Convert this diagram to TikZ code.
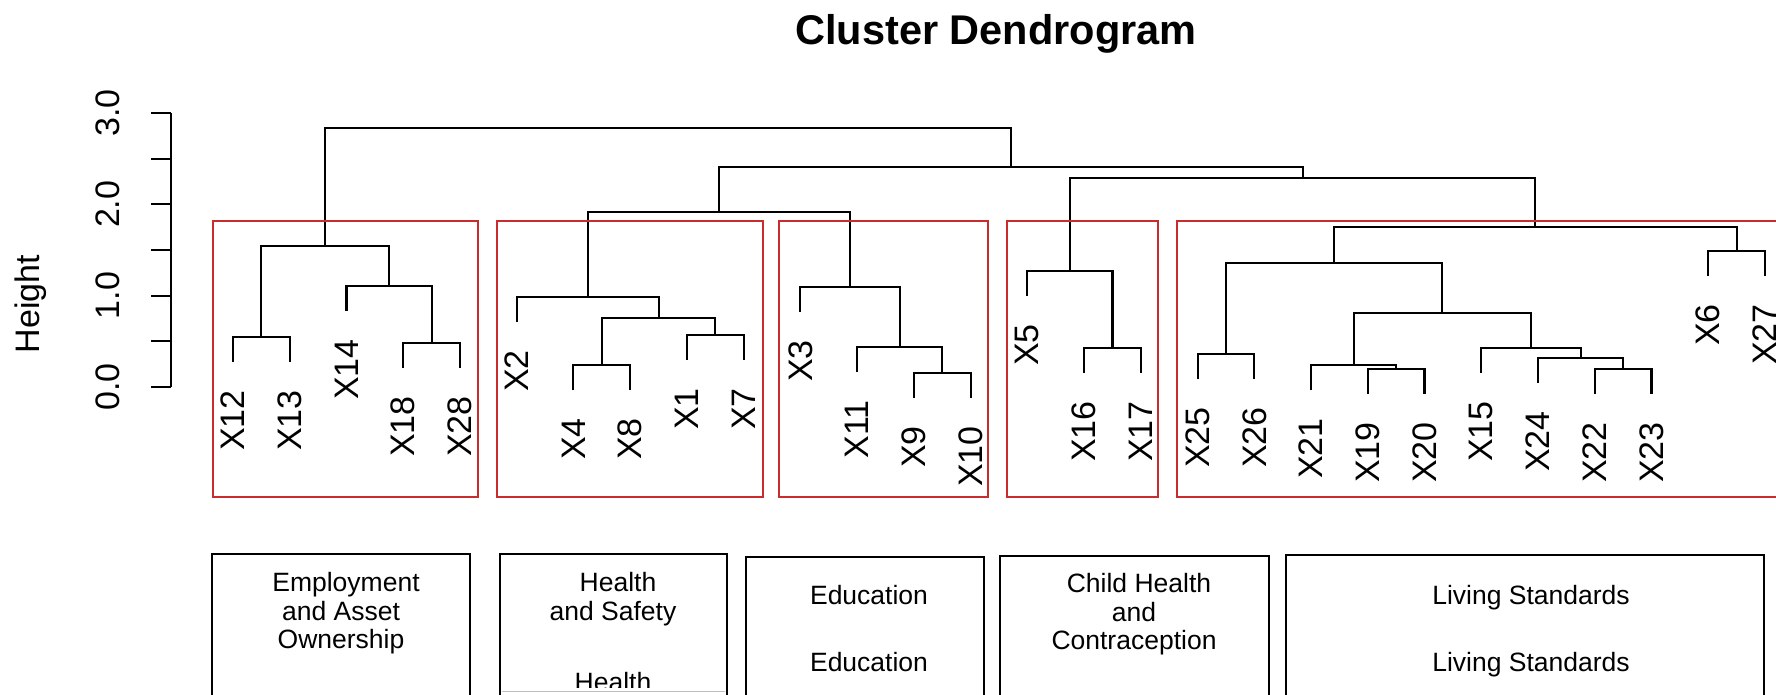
\documentclass[tikz,border=0pt]{standalone}
\usepackage{fontspec}
\setmainfont{Liberation Sans}
\usetikzlibrary{calc}
\definecolor{boxred}{RGB}{200,44,44}
\newcommand\leaf[3]{%
  \coordinate (#1) at (#2,#3);
  \node[leaflab] (t#1) at (#2,#3+28) {#1};}
\newcommand\mrg[4]{%
  \path (#2) -- (#3) coordinate[pos=0.5] (h#1);
  \coordinate (#1) at (h#1 |- 0,#4);
  \draw[dend] (#2) |- (#1) -| (#3);}
\begin{document}
\begin{tikzpicture}[x=1pt,y=-1pt,
  dend/.style={line width=2.1pt,black,line join=miter},
  redbox/.style={line width=2.1pt,draw=boxred},
  catbox/.style={line width=2.5pt,draw=black},
  leaflab/.style={rotate=90,anchor=east,inner sep=0pt,font=\fontsize{34}{40}\selectfont},
  ticklab/.style={rotate=90,anchor=base,inner sep=0pt,font=\fontsize{34}{40}\selectfont},
  boxtxt/.style={anchor=base,inner sep=0pt,font=\fontsize{26.5}{29}\selectfont},
  titlelab/.style={anchor=base,inner sep=0pt,font=\fontsize{41.5}{48}\selectfont\bfseries}]
\useasboundingbox (0,0) rectangle (1776,695);
\clip (0,0) rectangle (1776,695);
\fill[white] (0,0) rectangle (1776,695);

% title
\node[titlelab] (title) at (996,45) {Cluster Dendrogram};

% axis
\coordinate (ax0) at (171,387);
\coordinate (ax3) at (171,113);
\draw[dend] (ax0) -- (ax3);
\foreach \v in {0,0.5,1,1.5,2,2.5,3}{
  \draw[dend] (151,{387-91.33*\v}) -- (171,{387-91.33*\v});}
\foreach \v/\t in {0/0.0,1/1.0,2/2.0,3/3.0}{
  \node[ticklab] (tick\v) at (119,{387-91.33*\v}) {\t};}
\node[ticklab] (ylab) at (39,304) {Height};

% leaves
\leaf{X12}{233.0}{362}
\leaf{X13}{289.7}{362}
\leaf{X14}{346.5}{311}
\leaf{X18}{403.2}{368}
\leaf{X28}{460.0}{368}
\leaf{X2}{516.7}{322}
\leaf{X4}{573.4}{390}
\leaf{X8}{630.2}{390}
\leaf{X1}{686.9}{360}
\leaf{X7}{743.7}{360}
\leaf{X3}{800.4}{312}
\leaf{X11}{857.1}{372}
\leaf{X9}{913.9}{398}
\leaf{X10}{970.6}{398}
\leaf{X5}{1027.4}{296}
\leaf{X16}{1084.1}{373}
\leaf{X17}{1140.8}{373}
\leaf{X25}{1197.6}{379}
\leaf{X26}{1254.3}{379}
\leaf{X21}{1311.1}{390}
\leaf{X19}{1367.8}{394}
\leaf{X20}{1424.5}{394}
\leaf{X15}{1481.3}{373}
\leaf{X24}{1538.0}{383}
\leaf{X22}{1594.8}{394}
\leaf{X23}{1651.5}{394}
\leaf{X6}{1708.2}{276}
\leaf{X27}{1765.0}{276}

% merges
\mrg{m1}{X12}{X13}{337}
\mrg{m2}{X18}{X28}{343}
\mrg{m3}{X14}{m2}{286}
\mrg{m4}{m1}{m3}{246}
\mrg{m5}{X4}{X8}{365}
\mrg{m6}{X1}{X7}{335}
\mrg{m7}{m5}{m6}{318}
\mrg{m8}{X2}{m7}{297}
\mrg{m9}{X9}{X10}{373}
\mrg{m10}{X11}{m9}{347}
\mrg{m11}{X3}{m10}{287}
\mrg{m12}{m8}{m11}{212}
\mrg{m13}{X16}{X17}{348}
\mrg{m14}{X5}{m13}{271}
\mrg{m15}{X19}{X20}{369}
\mrg{m16}{X21}{m15}{365}
\mrg{m17}{X22}{X23}{369}
\mrg{m18}{X24}{m17}{358}
\mrg{m19}{X15}{m18}{348}
\mrg{m20}{m16}{m19}{313}
\mrg{m21}{X25}{X26}{354}
\mrg{m22}{m21}{m20}{263}
\mrg{m23}{X6}{X27}{251}
\mrg{m24}{m22}{m23}{227}
\mrg{m25}{m14}{m24}{178}
\mrg{m26}{m12}{m25}{167}
\mrg{m27}{m4}{m26}{128}

% red cluster boxes
\draw[redbox] (213,221) rectangle (478,497);
\draw[redbox] (497,221) rectangle (763,497);
\draw[redbox] (779,221) rectangle (988,497);
\draw[redbox] (1007,221) rectangle (1158,497);
\draw[redbox] (1177,221) rectangle (1800,497);

% category boxes
\draw[catbox] (212,554) rectangle (470,720);
\draw[catbox] (500,554) rectangle (727,720);
\draw[catbox] (746,557) rectangle (984,720);
\draw[catbox] (1000,556) rectangle (1269,720);
\draw[catbox] (1286,555) rectangle (1764,720);

\node[boxtxt] (a1) at (346,591) {Employment};
\node[boxtxt] (a2) at (341,620) {and Asset};
\node[boxtxt] (a3) at (341,648) {Ownership};

\node[boxtxt] (b1) at (618,591) {Health};
\node[boxtxt] (b2) at (613,620) {and Safety};
\node[boxtxt] (b3) at (613,691) {Health};
\fill[white] (502,688) rectangle (725,700);
\draw[black!25,line width=1pt] (502,691.5) -- (725,691.5);

\node[boxtxt] (c1) at (869,604) {Education};
\node[boxtxt] (c2) at (869,671) {Education};

\node[boxtxt] (d1) at (1139,592) {Child Health};
\node[boxtxt] (d2) at (1134,621) {and};
\node[boxtxt] (d3) at (1134,649) {Contraception};

\node[boxtxt] (e1) at (1531,604) {Living Standards};
\node[boxtxt] (e2) at (1531,671) {Living Standards};
\end{tikzpicture}
\end{document}
